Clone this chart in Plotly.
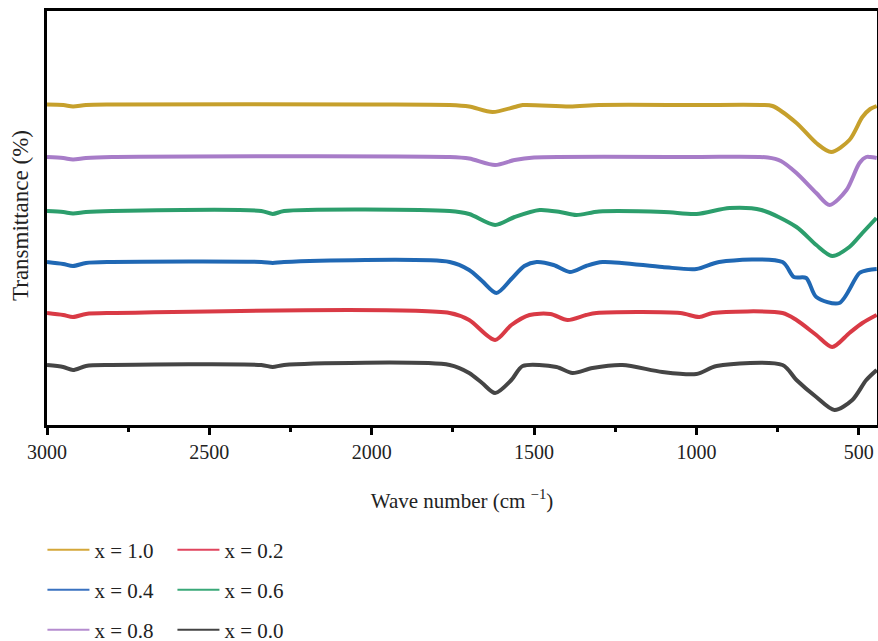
import plotly.graph_objects as go

# Wavenumbers (cm^-1) and stacked transmittance values (arbitrary units, offset per sample)
wn_10 = [3000, 2950, 2920, 2880, 2800, 2000, 1760, 1700, 1628, 1560, 1535, 1390, 1300, 1000, 800, 766, 692, 631, 585, 529, 489, 465, 445]
t_10 = [320.5, 320, 318.5, 320, 320.5, 320.5, 320, 318.5, 313, 318, 320, 318.5, 320, 320, 320, 319, 302, 282, 273, 285, 308, 316, 319]

wn_08 = [3000, 2950, 2920, 2880, 2800, 1760, 1700, 1620, 1560, 1500, 1000, 780, 740, 692, 631, 590, 538, 498, 477, 465, 445]
t_08 = [268, 267, 265.5, 267, 268, 268, 266.5, 260, 265, 267.5, 268, 267.5, 264, 252, 232, 220, 235, 262, 268, 268, 267]

wn_06 = [3000, 2950, 2920, 2880, 2800, 2340, 2305, 2270, 1760, 1700, 1620, 1560, 1483, 1420, 1370, 1300, 1100, 1000, 898, 800, 692, 631, 582, 529, 489, 446]
t_06 = [214, 213, 211.5, 213, 214, 214, 211, 214, 214, 211, 200, 208, 215, 213, 210, 213.5, 213, 211, 217, 215, 198, 180, 169, 178, 192, 207]

wn_04 = [3000, 2950, 2920, 2880, 2800, 2340, 2305, 2270, 1760, 1700, 1660, 1616, 1570, 1530, 1492, 1440, 1390, 1340, 1289, 1105, 1000, 930, 735, 700, 662, 631, 560, 498, 470, 445]
t_04 = [163, 161, 159, 162, 163, 163, 162, 163, 163, 155, 144, 132, 146, 159, 163, 160, 153, 159, 163, 158, 156, 163, 163, 148, 147, 128, 122, 152, 155, 156]

wn_02 = [3000, 2950, 2920, 2880, 2800, 1760, 1700, 1620, 1570, 1514, 1450, 1397, 1340, 1308, 1050, 991, 950, 735, 692, 631, 582, 529, 489, 445]
t_02 = [112, 110, 108, 111, 112, 112, 105, 85, 100, 110, 111, 105, 110, 112, 112, 108, 112, 112, 105, 90, 78, 92, 102, 110]

wn_00 = [3000, 2950, 2920, 2880, 2800, 2340, 2305, 2270, 1760, 1700, 1660, 1620, 1570, 1535, 1431, 1382, 1320, 1228, 1105, 1000, 938, 735, 692, 631, 575, 520, 477, 445]
t_00 = [60, 58, 55, 59, 60, 60, 58, 60, 60, 52, 42, 32, 45, 59, 58, 52, 57, 60, 53, 51, 59, 60, 45, 28, 15, 25, 45, 55]

tick_vals = [3000, 2500, 2000, 1500, 1000, 500]
tick_text = ["3000", "2500", "2000", "1500", "1000", "500"]

# legend order (row-wise, two per row)
series = [
    ("x = 1.0", wn_10, t_10, "#C6A02C", "#D4A73A", "legend"),
    ("x = 0.2", wn_02, t_02, "#D93A45", "#E0455E", "legend"),
    ("x = 0.4", wn_04, t_04, "#2068B4", "#3A72C0", "legend2"),
    ("x = 0.6", wn_06, t_06, "#2C9E6C", "#3AA878", "legend2"),
    ("x = 0.8", wn_08, t_08, "#A77CC8", "#B58CCF", "legend3"),
    ("x = 0.0", wn_00, t_00, "#454545", "#444444", "legend3"),
]

fig = go.Figure()
for name, wx, ty, col, lcol, lg in series:
    fig.add_trace(go.Scatter(
        x=wx, y=ty, name=name, mode="lines", showlegend=False,
        line=dict(color=col, width=4, shape="spline", smoothing=0.8),
        hoverinfo="skip",
    ))
for name, wx, ty, col, lcol, lg in series:
    # legend entry with thin line, like the reference key
    fig.add_trace(go.Scatter(
        x=[None], y=[None], name=name, mode="lines",
        line=dict(color=lcol, width=2), legend=lg,
    ))

ff = "Liberation Serif, serif"
tc = "#222222"

fig.update_layout(
    width=878, height=641,
    margin=dict(l=47, r=1, t=11, b=216, autoexpand=False),
    plot_bgcolor="white", paper_bgcolor="white",
    font=dict(family=ff, size=21, color=tc),
    xaxis=dict(
        range=[3000, 444], showgrid=False, zeroline=False, automargin=False,
        showline=True, linecolor="black", linewidth=3, mirror=True,
        ticks="outside", ticklen=7, tickwidth=3, tickcolor="black",
        tickmode="array", tickvals=tick_vals, ticktext=tick_text, ticklabelstandoff=0,
        minor=dict(ticks="outside", ticklen=4, tickwidth=3, tickcolor="black", dtick=250, tick0=0),
        tickfont=dict(size=20, family="Liberation Serif", color=tc, weight="normal"),
        title=dict(text="Wave number (cm <sup>−1</sup>)", font=dict(size=21, family=ff, color=tc), standoff=32),
    ),
    yaxis=dict(
        range=[0, 414], showgrid=False, zeroline=False, showticklabels=False, automargin=False,
        showline=True, linecolor="black", linewidth=3, mirror=True, ticks="",
    ),
    annotations=[dict(
        text="Transmittance (%)", textangle=-90, showarrow=False,
        xref="paper", yref="paper", x=(20 - 47) / 830, y=(425 - 216) / 414,
        xanchor="center", yanchor="middle",
        font=dict(size=23, family=ff, color=tc),
    )],
)

leg_common = dict(orientation="h", xanchor="left", yanchor="middle",
                  entrywidth=73, entrywidthmode="pixels", itemwidth=42,
                  font=dict(size=21, family=ff, color=tc),
                  bgcolor="rgba(0,0,0,0)", tracegroupgap=0)
fig.update_layout(
    legend=dict(x=-0.0055, y=(425 - 550) / 414, **leg_common),
    legend2=dict(x=-0.0055, y=(425 - 590) / 414, **leg_common),
    legend3=dict(x=-0.0055, y=(425 - 630) / 414, **leg_common),
)

fig.write_html("out.html", config={"displayModeBar": False},
               post_script="document.body.style.margin='0';document.body.style.overflow='hidden';")
